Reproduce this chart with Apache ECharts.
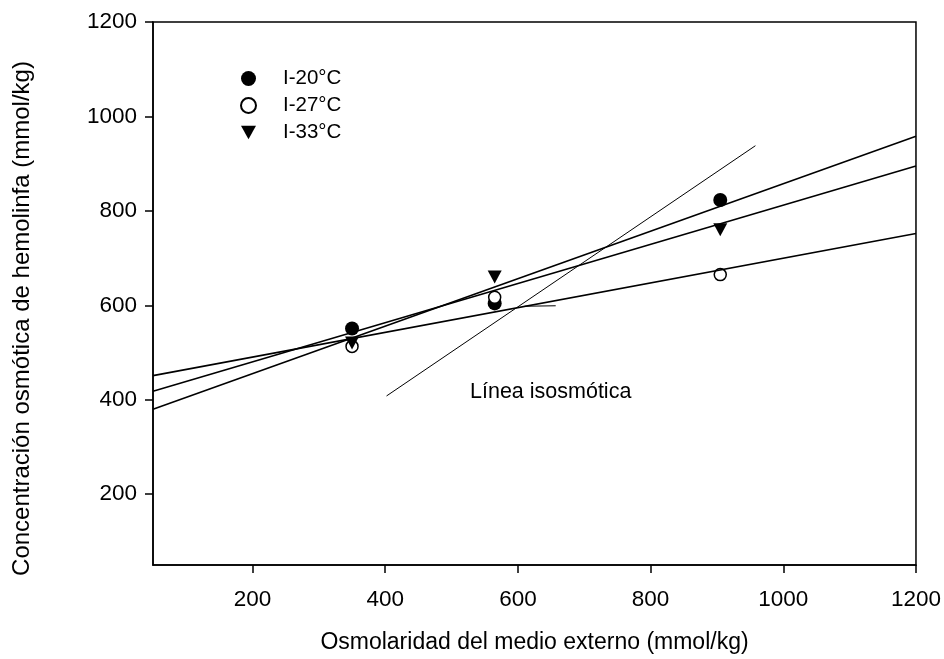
<!DOCTYPE html>
<html>
<head>
<meta charset="utf-8">
<script src="https://cdn.jsdelivr.net/npm/echarts@6/dist/echarts.min.js"></script>
<style>
  html, body { margin: 0; padding: 0; background: #fff; }
  #chart { width: 944px; height: 659px; }
</style>
</head>
<body>
<div id="chart"></div>
<script>
// data
const seriesNames = ['I-20°C', 'I-27°C', 'I-33°C'];
const i20 = [[350, 551], [565, 604], [905, 823]];
const i27 = [[350, 513], [565, 617], [905, 665]];
const i33 = [[350, 520], [565, 660], [905, 760]];

// fitted lines (ends at the axis limits)
const fit20 = [[50, 380], [1200, 958]];
const fit33 = [[50, 418], [1200, 895]];
const fit27 = [[50, 451], [1200, 752]];
const isoLine = [[402, 408], [958, 938]];
const pointerLine = [[610, 598], [657, 599]];

const xTicks = [200, 400, 600, 800, 1000, 1200];
const yTicks = [200, 400, 600, 800, 1000, 1200];

const chart = echarts.init(document.getElementById('chart'));
const font = 'Liberation Sans, Arial, sans-serif';

const lineSeries = function (data, width) {
  return {
    type: 'line',
    data: data,
    symbol: 'none',
    silent: true,
    lineStyle: { color: '#000', width: width },
    z: 3
  };
};

const option = {
  animation: false,
  backgroundColor: '#fff',
  grid: {
    left: 153, top: 22, width: 765, height: 548,
    show: true, borderColor: '#000', borderWidth: 1.5
  },
  xAxis: {
    type: 'value',
    min: 50, max: 1200, interval: 50,
    splitLine: { show: false },
    axisLine: { lineStyle: { color: '#000', width: 1.5 } },
    axisTick: { customValues: xTicks, length: 8, lineStyle: { color: '#000', width: 1.5 } },
    axisLabel: {
      customValues: xTicks, color: '#000', fontSize: 22.5, fontFamily: font, margin: 23,
      formatter: (v) => String(v)
    },
    name: 'Osmolaridad del medio externo (mmol/kg)',
    nameLocation: 'middle',
    nameGap: 66,
    nameTextStyle: { color: '#000', fontSize: 23, fontFamily: font }
  },
  yAxis: {
    type: 'value',
    min: 50, max: 1200, interval: 50,
    splitLine: { show: false },
    axisLine: { lineStyle: { color: '#000', width: 1.5 } },
    axisTick: { customValues: yTicks, length: 8, lineStyle: { color: '#000', width: 1.5 } },
    axisLabel: {
      customValues: yTicks, color: '#000', fontSize: 22.5, fontFamily: font, margin: 16,
      formatter: (v) => String(v)
    },
    name: 'Concentración osmótica de hemolinfa (mmol/kg)',
    nameLocation: 'middle',
    nameGap: 119,
    nameTextStyle: { color: '#000', fontSize: 24, fontFamily: font, padding: [0, 50, 0, 0] }
  },
  legend: {
    data: seriesNames,
    orient: 'vertical',
    left: 235, top: 63,
    itemWidth: 15, itemHeight: 15,
    itemGap: 6,
    textStyle: { color: '#000', fontSize: 20.5, fontFamily: font, padding: [0, 0, 0, 22] }
  },
  graphic: [{
    type: 'text',
    left: 470, top: 381,
    style: { text: 'Línea isosmótica', fill: '#000', fontSize: 21.5, fontFamily: font }
  }],
  series: [
    lineSeries(fit20, 1.6),
    lineSeries(fit33, 1.6),
    lineSeries(fit27, 1.6),
    lineSeries(isoLine, 1),
    lineSeries(pointerLine, 1),
    {
      name: seriesNames[0], type: 'scatter', data: i20,
      symbol: 'circle', symbolSize: 14,
      itemStyle: { color: '#000', opacity: 1 }, z: 2
    },
    {
      name: seriesNames[1], type: 'scatter', data: i27,
      symbol: 'circle', symbolSize: 12,
      itemStyle: { color: '#fff', borderColor: '#000', borderWidth: 1.5, opacity: 1 }, z: 2
    },
    {
      name: seriesNames[2], type: 'scatter', data: i33,
      symbol: 'path://M0,0 L10,0 L5,9 Z', symbolSize: [14, 13],
      itemStyle: { color: '#000', opacity: 1 }, z: 2
    }
  ]
};

chart.setOption(option);
</script>
</body>
</html>
